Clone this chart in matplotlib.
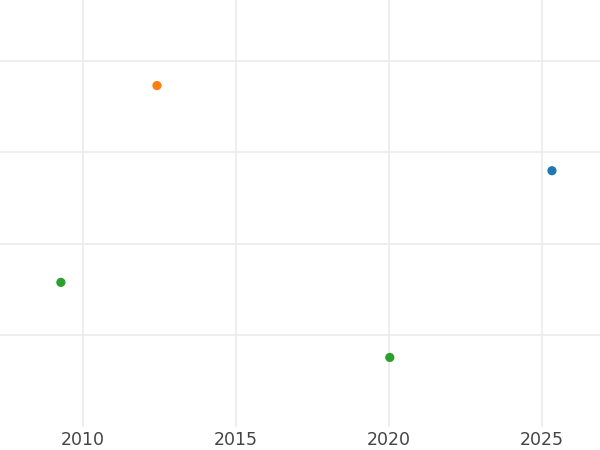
import matplotlib
matplotlib.use("Agg")
import matplotlib.pyplot as plt

# points (y has no labels, arbitrary units)
years = [2012.42, 2025.33, 2009.28, 2020.03]
values = [3.73, 2.80, 1.58, 0.76]
colors = ['#ff7f0e', '#1f77b4', '#2ca02c', '#2ca02c']

xticks = [2010, 2015, 2020, 2025]
yticks = [1, 2, 3, 4]

fig = plt.figure(figsize=(6, 4.5), dpi=100)
ax = fig.add_axes([0, 1 - 427 / 450, 1, 427 / 450])

ax.scatter(years, values, c=colors, s=44, zorder=3, linewidths=0)

ax.set_xlim(2007.29, 2026.9)
ax.set_ylim(0, 4.665)
ax.set_xticks(xticks)
ax.set_xticklabels([str(t) for t in xticks])
ax.set_yticks(yticks)
ax.set_yticklabels([])
ax.grid(True, color='#ebebeb', linewidth=1.2, zorder=0)
ax.tick_params(axis='both', length=0, labelsize=12.5, labelcolor='#444444', pad=3)
for s in ax.spines.values():
    s.set_visible(False)

fig.savefig('out.png', dpi=100)
